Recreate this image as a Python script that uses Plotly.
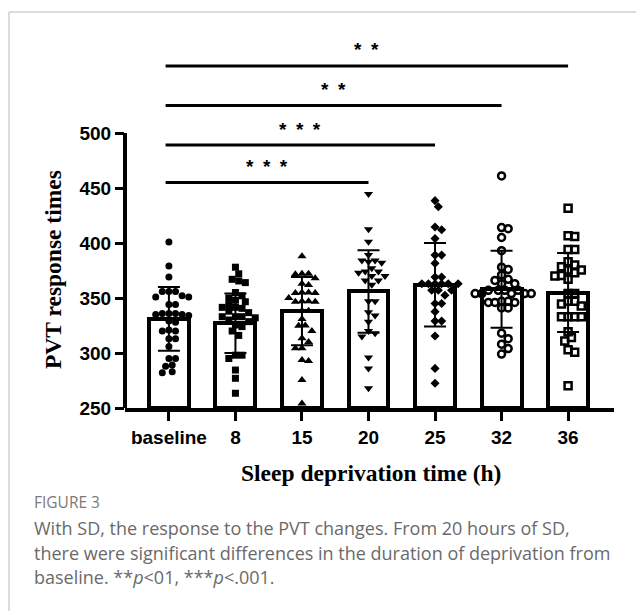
import plotly.graph_objects as go

categories = ["baseline", "8", "15", "20", "25", "32", "36"]
means = [331, 327, 338, 356, 362, 358, 355]
sds = [29, 27, 31, 37.5, 38, 35, 36]

pts_baseline = [401, 379, 369, 356, 356, 356, 352, 351, 351, 344, 344, 336, 336, 336, 335,
                335, 334, 329, 328, 321, 320, 320, 313, 313, 306, 295, 295, 289, 288, 283, 282]
pts_8 = [378, 372, 367, 365.5, 364, 355, 352, 350, 348, 346.6, 344, 341.5, 341.5, 340.6, 338,
         336.7, 333, 333, 333, 332, 330, 328.5, 325.5, 324, 320, 316, 298, 298, 295, 284.5, 277, 263.4]
pts_15 = [388, 372, 372, 371.5, 368, 363, 361.8, 355, 355, 354.5, 354.5, 350, 347, 347, 346.6, 346.6,
          338.5, 338.5, 331, 325, 324.8, 320, 313.3, 310, 304.3, 304.3, 293.6, 292.7, 275.5, 254.2]
pts_20 = [444.5, 412.4, 401.2, 389, 384, 384, 383, 382, 377, 374, 374, 373, 370, 370, 366, 366, 362,
          347, 347, 337, 334, 328.5, 320, 318, 315, 296, 286, 268]
pts_25 = [438.5, 433, 414.5, 412, 404, 389, 389, 381.5, 369, 369, 363, 363, 363, 363, 363, 363,
          357, 357, 357, 352.5, 345, 345, 337.6, 329, 329, 315.5, 286, 272.5]
pts_32 = [461, 414, 413, 405, 393, 378, 376, 371, 367, 366, 363, 363, 357, 357, 357, 357, 354, 354,
          354, 354, 354, 347, 347, 346, 346, 346, 341, 341, 318, 313, 308, 304, 299]
pts_36 = [431.5, 406.6, 406, 394, 394, 383, 380, 378.5, 375.5, 375.5, 373, 370.5, 370, 367, 354, 354,
          347, 347, 344.5, 342.7, 333, 333, 333, 333, 319.4, 314, 311, 303, 300.6, 270.3]
points = [pts_baseline, pts_8, pts_15, pts_20, pts_25, pts_32, pts_36]

symbols = ["circle", "square", "triangle-up", "triangle-down", "diamond", "circle-open", "square-open"]
sizes = [7, 7, 8, 8, 7, 7, 7]

sig_pairs = [("baseline", "36", "*\u2002*"), ("baseline", "32", "*\u2002*"),
             ("baseline", "25", "*\u2002*\u2002*"), ("baseline", "20", "*\u2002*\u2002*")]
sig_levels = [561, 525, 489, 455]

# ---- layout geometry (page pixel coords; the page body has an 8px margin)
OFF = 8
W, H = 644 - OFF, 611 - OFF
PL, PR, PT, PB = 125, 614, 34, 408   # plot area in page px
ML, MR, MT, MB = PL - OFF, W - (PR - OFF), PT - OFF, H - (PB - OFF)
XR = [-0.66, 6.69]
YR = [250, 590]
pw = PR - PL
ph = PB - PT
pxx = pw / (XR[1] - XR[0])
pxy = ph / (YR[1] - YR[0])


def xp(px):
    return (px - PL) / pw


def yp(py):
    return (PB - py) / ph


def swarm(vals, diam):
    placed = []
    offs = [0.0] * len(vals)
    order = sorted(range(len(vals)), key=lambda i: -vals[i])
    for i in order:
        yv = vals[i] * pxy
        k = 0
        while True:
            cands = [0.0] if k == 0 else [k * diam * 0.5, -k * diam * 0.5]
            found = None
            for c in cands:
                if all((c - ox) ** 2 + (yv - oy) ** 2 >= diam ** 2 for ox, oy in placed):
                    found = c
                    break
            if found is not None:
                placed.append((found, yv))
                offs[i] = found / pxx
                break
            k += 1
    return offs


fig = go.Figure()
idx = list(range(len(categories)))
fig.add_trace(go.Bar(x=idx, y=[m - YR[0] for m in means], base=YR[0], width=0.6,
                     marker=dict(color="white", line=dict(color="black", width=4)),
                     showlegend=False, hoverinfo="skip"))

for g, vals in enumerate(points):
    offs = swarm(vals, 6.6)
    openm = symbols[g].endswith("open")
    fig.add_trace(go.Scatter(
        x=[g + o for o in offs], y=vals, mode="markers",
        marker=dict(symbol=symbols[g], size=sizes[g], color="black",
                    line=dict(color="black", width=2.5 if openm else 0)),
        showlegend=False, hoverinfo="skip"))

fig.add_trace(go.Scatter(x=idx, y=means, mode="markers", marker=dict(size=1, opacity=0),
                         error_y=dict(type="data", array=sds, color="black", thickness=2, width=11),
                         showlegend=False, hoverinfo="skip"))

shapes = []
annotations = []
for (a, b, lab), lev in zip(sig_pairs, sig_levels):
    i0 = categories.index(a) - 0.05
    i1 = categories.index(b)
    shapes.append(dict(type="line", xref="x", yref="y", x0=i0, x1=i1, y0=lev, y1=lev,
                       line=dict(color="black", width=3)))
    annotations.append(dict(x=(i0 + i1) / 2, y=lev, xref="x", yref="y", text=lab, showarrow=False,
                            yshift=16, xanchor="center", yanchor="middle",
                            font=dict(family="Liberation Sans", size=19, color="black", weight="bold")))

# y axis line only over 250-500
shapes.append(dict(type="line", xref="paper", yref="y", x0=0, x1=0, y0=250, y1=500,
                   line=dict(color="black", width=4)))
# frame
shapes.append(dict(type="line", xref="paper", yref="paper", x0=xp(9), x1=xp(650), y0=yp(12), y1=yp(12),
                   line=dict(color="#d0d0d0", width=1.5)))
shapes.append(dict(type="line", xref="paper", yref="paper", x0=xp(9), x1=xp(9), y0=yp(12), y1=yp(620),
                   line=dict(color="#d0d0d0", width=1.5)))

annotations.append(dict(x=xp(53), y=yp(270), xref="paper", yref="paper", text="<b>PVT response times</b>",
                        textangle=-90, showarrow=False, xanchor="center", yanchor="middle",
                        font=dict(family="Liberation Serif", size=23.5, color="black")))
annotations.append(dict(x=xp(371), y=yp(473), xref="paper", yref="paper",
                        text="<b>Sleep deprivation time (h)</b>", showarrow=False,
                        xanchor="center", yanchor="middle",
                        font=dict(family="Liberation Serif", size=23.5, color="black")))
annotations.append(dict(x=xp(32), y=yp(502), xref="paper", yref="paper", text="FIGURE 3",
                        xanchor="left", yanchor="middle", showarrow=False,
                        font=dict(family="Open Sans", size=15.5, color="#7a7a7a")))
cap_lines = ["With SD, the response to the PVT changes. From 20 hours of SD,",
             "there were significant differences in the duration of deprivation from",
             "baseline. **<i>p</i><01, ***<i>p</i><.001."]
for k, line in enumerate(cap_lines):
    annotations.append(dict(x=xp(32), y=yp(528 + 24.5 * k), xref="paper", yref="paper", text=line,
                            xanchor="left", yanchor="middle", showarrow=False,
                            font=dict(family="Open Sans", size=18, color="#6a6a6a")))

tickfont = dict(family="Liberation Sans", size=19, color="black", weight="bold")
fig.update_layout(
    width=W, height=H, margin=dict(l=ML, r=MR, t=MT, b=MB),
    paper_bgcolor="white", plot_bgcolor="white", bargap=0,
    shapes=shapes, annotations=annotations,
    xaxis=dict(range=XR, tickvals=idx, ticktext=categories, showline=True, linecolor="black",
               linewidth=4, ticks="outside", ticklen=9, tickwidth=3, tickcolor="black",
               showgrid=False, zeroline=False, tickfont=tickfont),
    yaxis=dict(range=YR, tickvals=[250, 300, 350, 400, 450, 500], showline=False,
               ticks="outside", ticklen=9, tickwidth=3, tickcolor="black", showgrid=False,
               zeroline=False, tickfont=tickfont),
)

fig.write_html("out.html")
